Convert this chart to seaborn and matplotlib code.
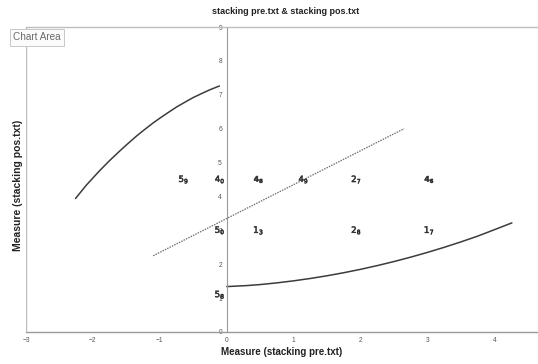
import numpy as np
import pandas as pd
import matplotlib
matplotlib.use("Agg")
import matplotlib.pyplot as plt
import seaborn as sns

# ---- data ----
title = "stacking pre.txt & stacking pos.txt"
x_label = "Measure (stacking pre.txt)"
y_label = "Measure (stacking pos.txt)"

point_x = [-0.65, -0.11, 0.47, 1.14, 1.93, 3.02, -0.11, 0.47, 1.93, 3.02, -0.11]
point_y = [4.5, 4.5, 4.5, 4.5, 4.5, 4.5, 3.0, 3.0, 3.0, 3.0, 1.1]
point_lbl = ["$5_9$", "$4_0$", "$\\mathbf{4_8}$", "$4_9$", "$2_7$", "$\\mathbf{4_6}$",
             "$5_0$", "$1_3$", "$2_8$", "$1_7$", "$5_8$"]

left_curve_x = [-2.26, -2.1, -1.9, -1.75, -1.6, -1.5, -1.35, -1.25, -1.1, -1.0,
                -0.85, -0.75, -0.6, -0.5, -0.35, -0.25, -0.11]
left_curve_y = [3.94, 4.33, 4.76, 5.06, 5.34, 5.52, 5.78, 5.94, 6.17, 6.31,
                6.51, 6.64, 6.81, 6.92, 7.06, 7.15, 7.26]

low_curve_x = [0.0, 0.3, 0.5, 0.75, 1.0, 1.25, 1.5, 1.75, 2.0, 2.25, 2.5, 2.75,
               3.0, 3.25, 3.5, 3.75, 4.0, 4.26]
low_curve_y = [1.34, 1.37, 1.40, 1.45, 1.51, 1.58, 1.66, 1.75, 1.85, 1.96, 2.08, 2.21,
               2.35, 2.50, 2.66, 2.83, 3.02, 3.22]

trend_x = [-1.10, 2.65]
trend_y = [2.25, 6.00]

x_ticks = [-3, -2, -1, 0, 1, 2, 3, 4]
y_ticks = [0, 1, 2, 3, 4, 5, 6, 7, 8, 9]

# ---- figure ----
sns.set_style("white")
plt.rcParams["font.family"] = ["Liberation Sans", "DejaVu Sans"]

W, H = 538, 364
fig = plt.figure(figsize=(W / 100, H / 100), dpi=100)
ax = fig.add_axes([26 / W, 32 / H, (538 - 26) / W, (332 - 27) / H])

axis_col = "#bdbdbd"
tick_col = "#555555"

pts = pd.DataFrame({"x": point_x, "y": point_y, "lbl": point_lbl})
sns.scatterplot(data=pts, x="x", y="y", style="lbl",
                markers={l: l for l in point_lbl}, color="#2a2a2a",
                s=36, linewidth=0.4, edgecolor="#2a2a2a", legend=False, ax=ax, zorder=4)

sns.lineplot(x=left_curve_x, y=left_curve_y, color="#3c3c3c", lw=1.1,
             sort=False, ax=ax)
sns.lineplot(x=low_curve_x, y=low_curve_y, color="#3c3c3c", lw=1.1,
             sort=False, ax=ax)
sns.lineplot(x=trend_x, y=trend_y, color="#6e6e6e", lw=0.9,
             linestyle=(0, (1.2, 0.9)), sort=False, ax=ax)

ax.set_xlim(-3, 4.65)
ax.set_ylim(0, 9)

ax.spines["right"].set_visible(False)
ax.spines["top"].set_color(axis_col)
ax.spines["top"].set_linewidth(1.0)
ax.spines["bottom"].set_color("#9a9a9a")
ax.spines["bottom"].set_linewidth(1.0)
ax.spines["left"].set_position(("data", 0))
ax.spines["left"].set_color("#9a9a9a")
ax.spines["left"].set_linewidth(0.8)
ax.axvline(-3, color=axis_col, lw=1.0, zorder=0)

ax.set_xticks(x_ticks)
ax.set_yticks(y_ticks)
ax.tick_params(axis="both", which="major", length=3, width=0.6, color="#888888",
               labelsize=4.8, labelcolor=tick_col, direction="inout", pad=2)

ax.set_xlabel(x_label, fontsize=7, fontweight="bold", color="#222222", labelpad=2)
ax.set_ylabel("")
fig.text(18 / W, 1 - 185 / H, y_label, rotation=90, fontsize=7.5, fontweight="bold",
         color="#222222", ha="center", va="center")

fig.text(286 / W, 1 - 12 / H, title, fontsize=6.5, fontweight="bold",
         color="#222222", ha="center", va="center")

fig.text(13 / W, 1 - 37 / H, "Chart Area", fontsize=7.2, color="#6b6b6b",
         ha="left", va="center",
         bbox=dict(boxstyle="square,pad=0.35", fc="#fbfbfb", ec="#c8c8c8", lw=0.7))

fig.savefig("out.png", dpi=100)
